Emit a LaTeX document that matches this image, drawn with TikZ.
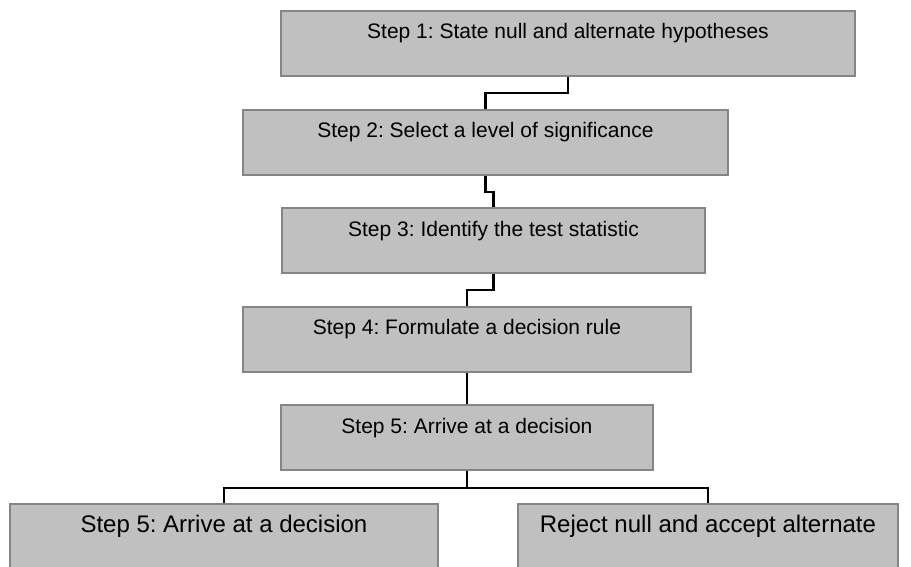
\documentclass[tikz,border=0pt]{standalone}
\usepackage{fontspec}
\setmainfont{Liberation Sans}
\usetikzlibrary{positioning}
\definecolor{boxfill}{HTML}{C0C0C0}
\definecolor{boxline}{HTML}{858585}
\frenchspacing

\begin{document}
\begin{tikzpicture}[x=0.75pt, y=0.75pt, node distance=23.7pt,
  stepbox/.style={draw=boxline, fill=boxfill, line width=1.5pt, minimum height=48.75pt, text height=12pt, text depth=18.75pt, font=\fontsize{15.75pt}{18pt}\selectfont},
  bigbox/.style={stepbox, font=\fontsize{18pt}{21pt}\selectfont},
  link/.style={line width=1.6pt}]
  \useasboundingbox (0,0) rectangle (911,-567);
  \clip (0,0) rectangle (911,-567);
  \node[stepbox, minimum width=430.5pt] (hypotheses) at (568,-43.5) {Step 1: State null and alternate hypotheses};
  \node[stepbox, minimum width=363.75pt, below=of hypotheses, xshift=-61.9pt] (level) {Step 2: Select a level of significance};
  \node[stepbox, minimum width=317.25pt, below=of level, xshift=6pt] (statistic) {Step 3: Identify the test statistic};
  \node[stepbox, minimum width=336pt, below=of statistic, xshift=-19.9pt] (rule) {Step 4: Formulate a decision rule};
  \node[stepbox, minimum width=279pt, below=of rule] (decision) {Step 5: Arrive at a decision};
  \node[bigbox, minimum width=321pt, below=of decision, xshift=-182.25pt] (leftout) {Step 5: Arrive at a decision};
  \node[bigbox, minimum width=285pt, below=of decision, xshift=180.75pt] (reject) {Reject null and accept alternate};

  \draw[link] (hypotheses.south) -- ++(0,-16) -| (level.north);
  \draw[link] (level.south) -- ++(0,-16) -| (statistic.north);
  \draw[link] (statistic.south) -- ++(0,-16) -| (rule.north);
  \draw[link] (rule) -- (decision);
  \draw[link] (decision.south) -- ++(0,-17) -| (leftout.north);
  \draw[link] (decision.south) -- ++(0,-17) -| (reject.north);
\end{tikzpicture}
\end{document}
